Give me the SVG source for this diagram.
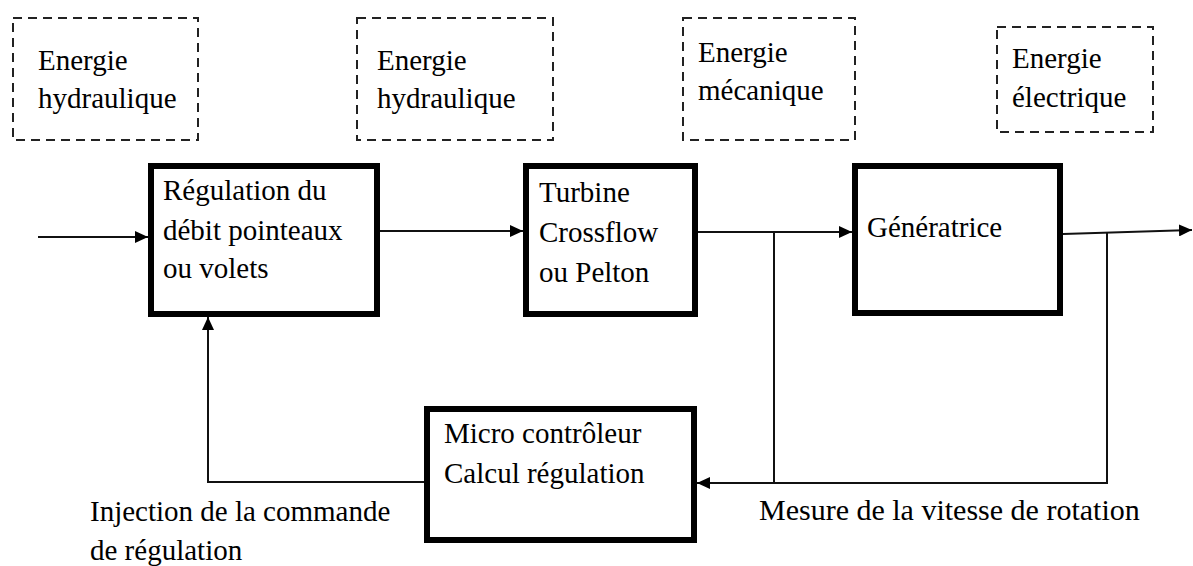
<svg xmlns="http://www.w3.org/2000/svg" width="1193" height="566" viewBox="0 0 1193 566" font-family="Liberation Serif, serif">
<style>
text{font-size:29px;fill:#000}
.blk{fill:#fff;stroke:#000;stroke-width:6}
.dash{fill:none;stroke:#222;stroke-width:2;stroke-dasharray:9,6}
.w{fill:none;stroke:#111;stroke-width:2}
</style>
<defs>
<marker id="ah" markerUnits="userSpaceOnUse" markerWidth="14" markerHeight="12" refX="13" refY="6" orient="auto">
<path d="M0,0 L13,6 L0,12 Z" fill="#000"/>
</marker>
</defs>
<rect width="1193" height="566" fill="#fff"/>
<g id="energy1"><rect class="dash" x="13" y="18" width="185" height="122"/><text x="38" y="70">Energie</text><text x="38" y="108">hydraulique</text></g>
<g id="energy2"><rect class="dash" x="357" y="18" width="196" height="122"/><text x="377" y="70">Energie</text><text x="377" y="108">hydraulique</text></g>
<g id="energy3"><rect class="dash" x="683" y="18" width="172" height="122"/><text x="698" y="62">Energie</text><text x="698" y="100">mécanique</text></g>
<g id="energy4"><rect class="dash" x="997" y="27" width="156" height="105"/><text x="1012" y="68">Energie</text><text x="1012" y="107">électrique</text></g>
<g id="connectors">
<path class="w" d="M38,237 H148" marker-end="url(#ah)"/>
<path class="w" d="M380,231 H523" marker-end="url(#ah)"/>
<path class="w" d="M698,232 H852" marker-end="url(#ah)"/>
<path class="w" d="M1063,234 L1192,230" marker-end="url(#ah)"/>
<path class="w" d="M774,232 V483"/>
<path class="w" d="M1107,233 V483 H697" marker-end="url(#ah)"/>
<path class="w" d="M424,482 H208 V317" marker-end="url(#ah)"/>
</g>
<g id="regulation"><rect class="blk" x="151" y="166" width="226" height="148"/><text x="163" y="200">Régulation du</text><text x="163" y="240">débit pointeaux</text><text x="163" y="278">ou volets</text></g>
<g id="turbine"><rect class="blk" x="526" y="166" width="169" height="148"/><text x="539" y="202">Turbine</text><text x="539" y="242">Crossflow</text><text x="539" y="282">ou Pelton</text></g>
<g id="generatrice"><rect class="blk" x="855" y="166" width="205" height="147"/><text x="867" y="237">Génératrice</text></g>
<g id="microcontroleur"><rect class="blk" x="427" y="409" width="267" height="131"/><text x="444" y="443">Micro contrôleur</text><text x="444" y="483">Calcul régulation</text></g>
<g id="label-injection"><text x="90" y="521">Injection de la commande</text><text x="90" y="560">de régulation</text></g>
<g id="label-mesure"><text x="759" y="520" style="font-size:30px">Mesure de la vitesse de rotation</text></g>
</svg>
